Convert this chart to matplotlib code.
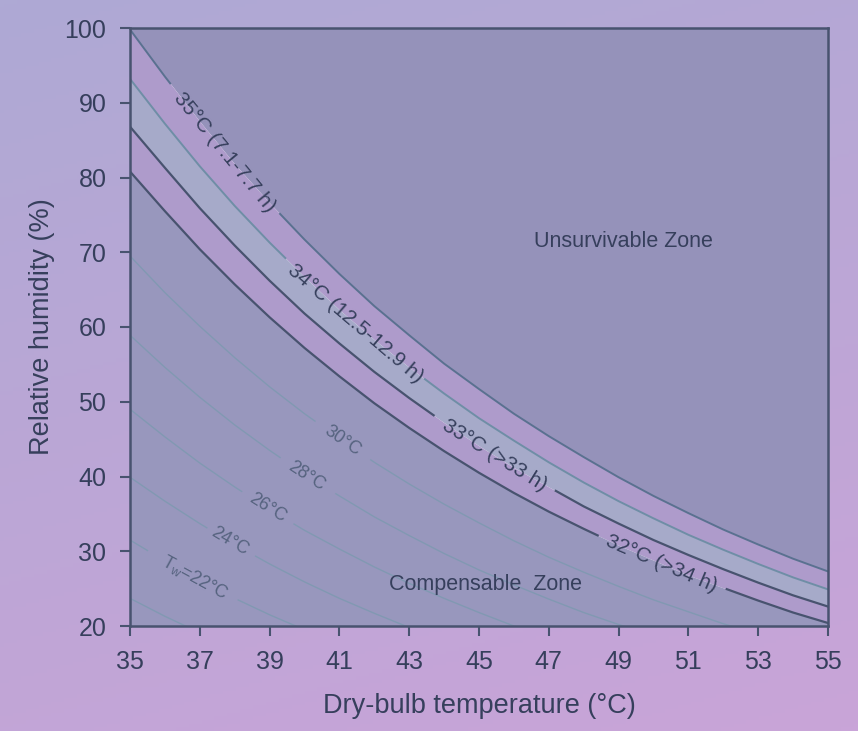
import numpy as np
import matplotlib
matplotlib.use("Agg")
import matplotlib.pyplot as plt
from matplotlib.colors import LinearSegmentedColormap

plt.rcParams['font.family'] = ['Liberation Sans', 'DejaVu Sans']

# dry-bulb temperature (deg C) at which the curves were read
temp = list(range(35, 56))

# relative humidity (%) along each wet-bulb isotherm
rh_35 = [99.8, 93.5, 87.5, 81.8, 76.6, 71.7, 67.1, 62.8, 58.9, 55.1, 51.7,
         48.4, 45.4, 42.6, 39.9, 37.4, 35.1, 32.9, 30.9, 29.0, 27.3]
rh_34 = [93.2, 87.2, 81.5, 76.2, 71.3, 66.7, 62.3, 58.3, 54.6, 51.1, 47.8,
         44.8, 41.9, 39.2, 36.7, 34.4, 32.2, 30.2, 28.3, 26.5, 24.9]
rh_33 = [86.8, 81.3, 75.9, 70.9, 66.2, 61.8, 57.8, 54.0, 50.5, 47.2, 44.1,
         41.2, 38.6, 36.0, 33.7, 31.5, 29.5, 27.6, 25.8, 24.1, 22.6]
rh_32 = [80.8, 75.5, 70.4, 65.7, 61.3, 57.2, 53.4, 49.8, 46.5, 43.4, 40.5,
         37.8, 35.3, 33.0, 30.8, 28.8, 26.8, 25.1, 23.4, 21.8, 20.4]
rh_30 = [69.5, 64.6, 60.1, 55.9, 52.0, 48.4, 45.1, 41.9, 39.0, 36.3, 33.8,
         31.4, 29.2, 27.2, 25.3, 23.5, 21.9, 20.3, 18.9]
rh_28 = [58.9, 54.6, 50.6, 46.9, 43.5, 40.3, 37.4, 34.6, 32.1, 29.7, 27.5,
         25.5, 23.6, 21.8, 20.2, 18.7]
rh_26 = [49.0, 45.3, 41.8, 38.6, 35.6, 32.8, 30.3, 27.9, 25.7, 23.7, 21.8,
         20.0, 18.4]
rh_24 = [39.9, 36.7, 33.7, 30.9, 28.3, 25.9, 23.7, 21.7, 19.8]
rh_22 = [31.5, 28.7, 26.1, 23.7, 21.5, 19.5]
rh_20 = [23.7, 21.3, 19.1]

xticks = [35, 37, 39, 41, 43, 45, 47, 49, 51, 53, 55]
yticks = [20, 30, 40, 50, 60, 70, 80, 90, 100]

dark = '#48536f'
thin = '#8199b2'
txt = '#363f5c'

fig = plt.figure(figsize=(8.58, 7.31), dpi=100)

# lilac gradient behind everything
bg = fig.add_axes([0, 0, 1, 1], zorder=-10)
yy, xx = np.mgrid[0:1:200j, 0:1:200j]
bg_cmap = LinearSegmentedColormap.from_list('bg', ['#aea9d4', '#c9a4d8'])
bg.imshow(0.75 * yy + 0.25 * xx, cmap=bg_cmap, aspect='auto',
          extent=[0, 1, 0, 1], origin='upper')
bg.axis('off')

ax = fig.add_axes([130 / 858, 105 / 731, 698 / 858, 598 / 731])
ax.set_xlim(35, 55)
ax.set_ylim(20, 100)

x = np.array(temp, dtype=float)
ax.fill_between(x, rh_35, 100, color='#9592ba', lw=0)
ax.fill_between(x, rh_34, rh_35, color='#ae9bcb', lw=0)
ax.fill_between(x, rh_33, rh_34, color='#a6aac9', lw=0)
ax.fill_between(x, rh_32, rh_33, color='#ae9bcb', lw=0)
ax.fill_between(x, 20, rh_32, color='#9897bd', lw=0)


def draw_line(rh, gap=None, **kw):
    xs = x[:len(rh)]
    ys = np.array(rh, dtype=float)
    if gap is None:
        ax.plot(xs, ys, **kw)
        return
    g0, g1 = gap
    left = xs < g0
    right = xs > g1
    ax.plot(np.append(xs[left], g0), np.append(ys[left], np.interp(g0, xs, ys)), **kw)
    ax.plot(np.insert(xs[right], 0, g1), np.insert(ys[right], 0, np.interp(g1, xs, ys)), **kw)


def label(rh, xc, s, size=15, color=txt, dy=0.0):
    xs = x[:len(rh)]
    ys = np.array(rh, dtype=float)
    yc = np.interp(xc, xs, ys)
    slope = (np.interp(xc + 0.3, xs, ys) - np.interp(xc - 0.3, xs, ys)) / 0.6
    ang = np.degrees(np.arctan(slope))
    ax.text(xc, yc + dy, s, rotation=ang, rotation_mode='anchor',
            transform_rotates_text=True, ha='center', va='center',
            fontsize=size, color=color)


# thin wet-bulb isotherms
draw_line(rh_20, color=thin, lw=1.0)
draw_line(rh_22, gap=(35.5, 38.1), color=thin, lw=1.0)
draw_line(rh_24, gap=(37.2, 38.6), color=thin, lw=1.0)
draw_line(rh_26, gap=(38.2, 39.7), color=thin, lw=1.0)
draw_line(rh_28, gap=(39.3, 40.9), color=thin, lw=1.0)
draw_line(rh_30, gap=(40.3, 41.9), color=thin, lw=1.0)

# limit lines
draw_line(rh_35, gap=(36.15, 39.3), color='#5a7190', lw=1.4)
draw_line(rh_34, gap=(39.45, 43.45), color='#6f8ea6', lw=1.4)
draw_line(rh_33, gap=(43.7, 47.2), color=dark, lw=1.6)
draw_line(rh_32, gap=(48.4, 52.1), color=dark, lw=1.6)

label(rh_35, 37.72, '35°C (7.1-7.7 h)')
label(rh_34, 41.45, '34°C (12.5-12.9 h)')
label(rh_33, 45.45, '33°C (>33 h)')
label(rh_32, 50.24, '32°C (>34 h)')

small = '#56637f'
label(rh_30, 41.1, '30°C', size=13, color=small)
label(rh_28, 40.07, '28°C', size=13, color=small)
label(rh_26, 38.93, '26°C', size=13, color=small)
label(rh_24, 37.87, '24°C', size=13, color=small)
label(rh_22, 36.86, r'T$_\mathregular{w}$=22°C', size=13, color=small)

ax.text(49.15, 71.4, 'Unsurvivable Zone', ha='center', va='center',
        fontsize=15.5, color=txt)
ax.text(45.19, 25.5, 'Compensable  Zone', ha='center', va='center',
        fontsize=15.5, color=txt)

ax.set_xticks(xticks)
ax.set_yticks(yticks)
for sp in ax.spines.values():
    sp.set_color(dark)
    sp.set_linewidth(1.8)
ax.tick_params(direction='out', length=7, width=1.5, color=dark,
               labelsize=18, labelcolor=txt, pad=10)
ax.set_xlabel('Dry-bulb temperature (°C)', fontsize=19.5, color=txt, labelpad=14)
ax.set_ylabel('Relative humidity (%)', fontsize=19.5, color=txt, labelpad=7)

fig.savefig('out.png', dpi=100)
